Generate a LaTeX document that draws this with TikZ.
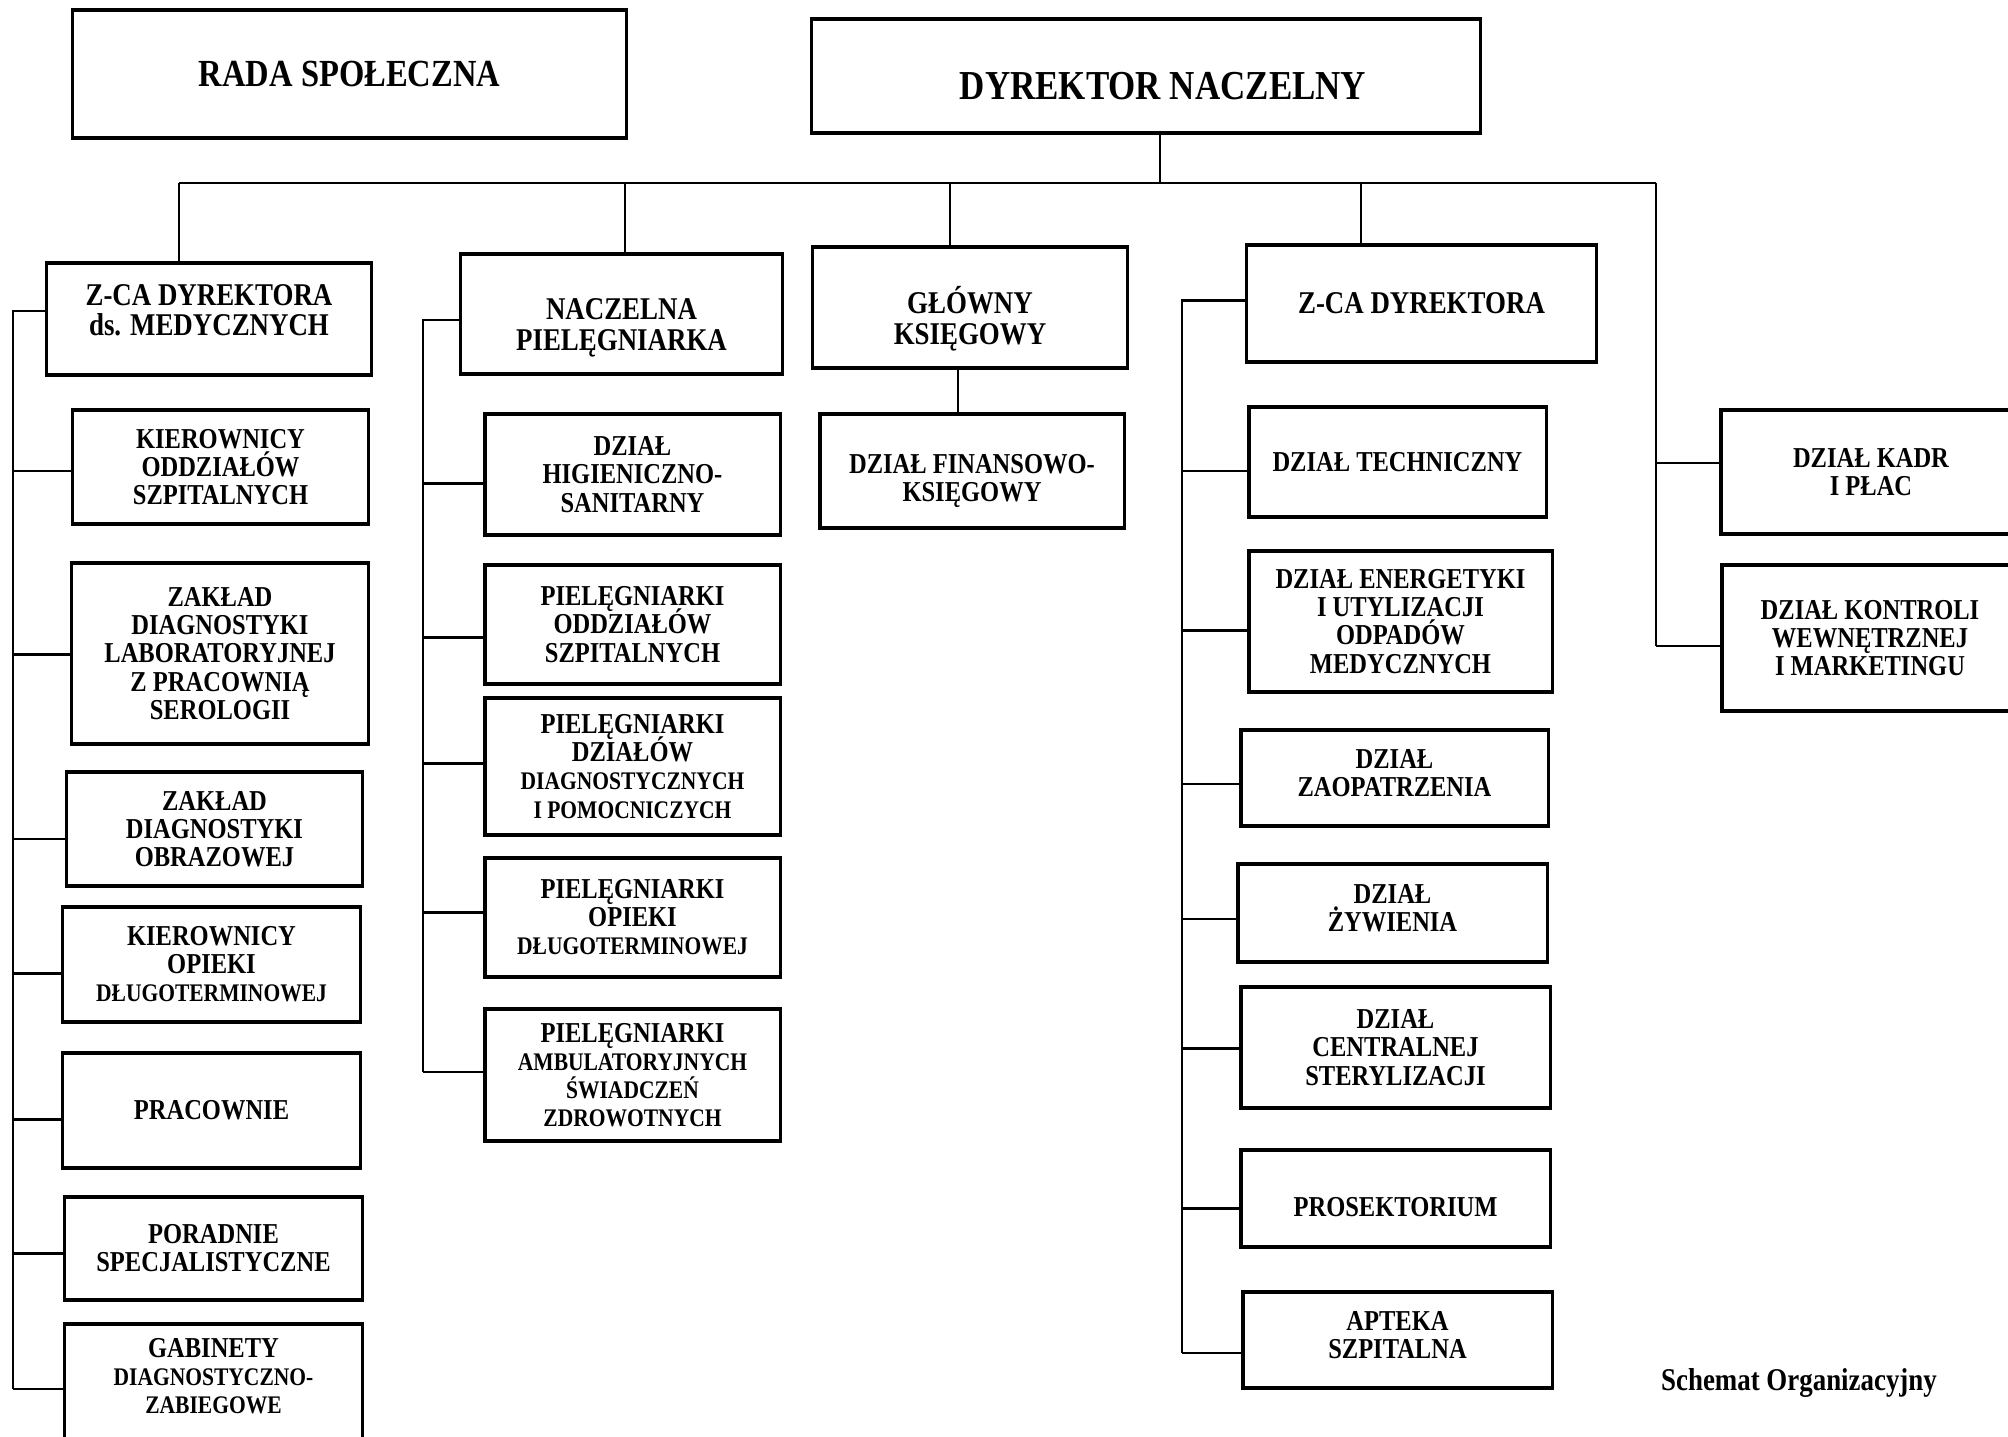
\documentclass[tikz,border=0pt]{standalone}
\usepackage{fontspec}
\setmainfont{Liberation Serif}[FakeStretch=0.85]
\usetikzlibrary{calc}
\tikzset{
  box/.style={draw, line width=0.9pt, align=center, inner sep=1pt,
    font=\bfseries\fontsize{8.2}{8}\selectfont},
  bigbox/.style={box, font=\bfseries\fontsize{9}{8.7}\selectfont},
  link/.style={line width=0.6pt}
}
\newcommand{\lbsmall}[1]{{\fontsize{7.2}{7.6}\selectfont #1}}
\newcommand{\pushdown}[1]{\rule{0pt}{#1}}
\newcommand{\pushup}[1]{\rule[-#1]{0pt}{#1}}

\begin{document}
\lineskiplimit=-10pt
\begin{tikzpicture}[x=0.01cm, y=-0.01cm]
\useasboundingbox (0,0) rectangle (2008,1437);
% Top
    \node[box, font=\bfseries\fontsize{10.9}{12}\selectfont, minimum width=5.53cm, minimum height=1.28cm] (rada) at (349.5,74) {RADA SPOŁECZNA};
    \node[box, font=\bfseries\fontsize{11.7}{13}\selectfont, minimum width=6.68cm, minimum height=1.14cm] (dyr) at (1146,76) {\hspace{0.34cm}\pushdown{13.4pt}DYREKTOR NACZELNY};
% Second level
    \node[bigbox, minimum width=3.24cm, minimum height=1.12cm] (zmed) at (209,319) {Z-CA DYREKTORA\\ ds. MEDYCZNYCH\pushup{5pt}};
    \node[bigbox, minimum width=3.21cm, minimum height=1.20cm] (nacz) at (621.5,314) {\pushdown{14pt}NACZELNA\\ PIELĘGNIARKA};
    \node[bigbox, minimum width=3.14cm, minimum height=1.21cm] (glowny) at (970,307.5) {\pushdown{14pt}GŁÓWNY\\ KSIĘGOWY};
    \node[bigbox, minimum width=3.49cm, minimum height=1.17cm] (zca) at (1421.5,303.5) {Z-CA DYREKTORA};
% Medical column
    \node[box, minimum width=2.95cm, minimum height=1.14cm] (kier) at (220.5,467) {KIEROWNICY\\ ODDZIAŁÓW\\ SZPITALNYCH};
    \node[box, minimum width=2.96cm, minimum height=1.81cm] (zlab) at (220,653.5) {ZAKŁAD\\ DIAGNOSTYKI\\ LABORATORYJNEJ\\ Z PRACOWNIĄ\\ SEROLOGII};
    \node[box, minimum width=2.95cm, minimum height=1.14cm] (zobr) at (214.5,829) {ZAKŁAD\\ DIAGNOSTYKI\\ OBRAZOWEJ};
    \node[box, minimum width=2.97cm, minimum height=1.15cm] (kopd) at (211.5,964.5) {KIEROWNICY\\ OPIEKI\\ \lbsmall{DŁUGOTERMINOWEJ}};
    \node[box, minimum width=2.97cm, minimum height=1.15cm] (prac) at (211.5,1110.5) {PRACOWNIE};
    \node[box, minimum width=2.97cm, minimum height=1.03cm] (pora) at (213.5,1248.5) {PORADNIE\\ SPECJALISTYCZNE};
    \node[box, minimum width=2.97cm, minimum height=1.50cm] (gabi) at (213.5,1399) {};
    \node[font=\bfseries\fontsize{8.2}{8}\selectfont, align=center, inner sep=0pt] (gabiT) at (213.5,1376) {GABINETY\\ \lbsmall{DIAGNOSTYCZNO-}\\ \lbsmall{ZABIEGOWE}};
% Nursing column
    \node[box, minimum width=2.95cm, minimum height=1.21cm] (dhig) at (632.5,474.5) {DZIAŁ\\ HIGIENICZNO-\\ SANITARNY};
    \node[box, minimum width=2.95cm, minimum height=1.19cm] (podd) at (632.5,624.5) {PIELĘGNIARKI\\ ODDZIAŁÓW\\ SZPITALNYCH};
    \node[box, minimum width=2.95cm, minimum height=1.37cm] (pdia) at (632.5,766.5) {PIELĘGNIARKI\\ DZIAŁÓW\\ \lbsmall{DIAGNOSTYCZNYCH}\\ \lbsmall{I POMOCNICZYCH}};
    \node[box, minimum width=2.95cm, minimum height=1.19cm] (popd) at (632.5,917.5) {PIELĘGNIARKI\\ OPIEKI\\ \lbsmall{DŁUGOTERMINOWEJ}};
    \node[box, minimum width=2.95cm, minimum height=1.32cm] (pamb) at (632.5,1075) {PIELĘGNIARKI\\ \lbsmall{AMBULATORYJNYCH}\\ \lbsmall{ŚWIADCZEŃ}\\ \lbsmall{ZDROWOTNYCH}};
% Accounts
    \node[box, minimum width=3.04cm, minimum height=1.14cm] (fin) at (972,471) {\pushdown{11.1pt}DZIAŁ FINANSOWO-\\ KSIĘGOWY};
% Deputy column
    \node[box, minimum width=2.97cm, minimum height=1.10cm] (dtech) at (1397.5,462) {DZIAŁ TECHNICZNY};
    \node[box, minimum width=3.03cm, minimum height=1.41cm] (dener) at (1400.5,621.5) {DZIAŁ ENERGETYKI\\ I UTYLIZACJI\\ ODPADÓW\\ MEDYCZNYCH};
    \node[box, minimum width=3.07cm, minimum height=0.96cm] (dzaop) at (1394.5,778) {DZIAŁ\\ ZAOPATRZENIA\pushup{2.8pt}};
    \node[box, minimum width=3.09cm, minimum height=0.98cm] (dzyw) at (1392.5,913) {DZIAŁ\\ ŻYWIENIA\pushup{2.8pt}};
    \node[box, minimum width=3.09cm, minimum height=1.21cm] (dster) at (1395.5,1047.5) {DZIAŁ\\ CENTRALNEJ\\ STERYLIZACJI};
    \node[box, minimum width=3.09cm, minimum height=0.97cm] (dpros) at (1395.5,1198.5) {\pushdown{10.6pt}PROSEKTORIUM};
    \node[box, minimum width=3.09cm, minimum height=0.96cm] (dapt) at (1397.5,1340) {APTEKA\\ SZPITALNA\pushup{2.8pt}};
% Right column
    \node[box, minimum width=3.00cm, minimum height=1.24cm] (kadr) at (1871,472) {DZIAŁ KADR\\ I PŁAC};
    \node[box, minimum width=2.96cm, minimum height=1.46cm] (kontr) at (1870,638) {DZIAŁ KONTROLI\\ WEWNĘTRZNEJ\\ I MARKETINGU};
    \node[font=\bfseries\fontsize{9}{10}\selectfont] (tytul) at (1799,1383) {Schemat Organizacyjny};
% Bus and spines
    \coordinate (busL) at (179,183);
    \coordinate (dN) at (625,183);
    \coordinate (dG) at (950,183);
    \coordinate (dZ) at (1361,183);
    \coordinate (sR) at (1656,183);
    \coordinate (sL) at (13,310);
    \coordinate (sN) at (423,320);
    \coordinate (sZ) at (1182,301);
    \draw[link] ($(dyr.south)+(14,0)$) -- ($(dyr.south |- busL)+(14,0)$);
    \draw[link] (busL) -- (sR);
    \draw[link] (busL) -- (busL |- zmed.north);
    \draw[link] (dN) -- (dN |- nacz.north);
    \draw[link] (dG) -- (dG |- glowny.north);
    \draw[link] (dZ) -- (dZ |- zca.north);
    \draw[link] ($(glowny.south)+(-12,0)$) -- ($(glowny.south |- fin.north)+(-12,0)$);
% Medical spine
    \draw[link] ($(zmed.west)+(0,-8)$) -- ($(zmed.west -| sL)+(0,-8)$) -- ($(sL |- gabi.west)+(0,-10)$);
    \foreach \n/\d in {kier/4,zlab/1,zobr/10,kopd/9,prac/9,pora/5,gabi/-10}
        \draw[link] ($(\n.west)+(0,\d)$) -- ($(\n.west -| sL)+(0,\d)$);
% Nursing spine
    \draw[link] ($(nacz.west)+(0,6)$) -- ($(nacz.west -| sN)+(0,6)$) -- ($(sN |- pamb.west)+(0,-3)$);
    \foreach \n/\d in {dhig/9,podd/13,pdia/-3,popd/-5,pamb/-3}
        \draw[link] ($(\n.west)+(0,\d)$) -- ($(\n.west -| sN)+(0,\d)$);
% Deputy spine
    \draw[link] ($(zca.west)+(0,-3)$) -- ($(zca.west -| sZ)+(0,-3)$) -- ($(sZ |- dapt.west)+(0,13)$);
    \foreach \n/\d in {dtech/9,dener/9,dzaop/6,dzyw/6,dster/1,dpros/10,dapt/13}
        \draw[link] ($(\n.west)+(0,\d)$) -- ($(\n.west -| sZ)+(0,\d)$);
% Right spine
    \draw[link] (sR) -- ($(sR |- kontr.west)+(0,8)$);
    \foreach \n/\d in {kadr/-9,kontr/8}
        \draw[link] ($(\n.west)+(0,\d)$) -- ($(\n.west -| sR)+(0,\d)$);
\end{tikzpicture}
\end{document}
